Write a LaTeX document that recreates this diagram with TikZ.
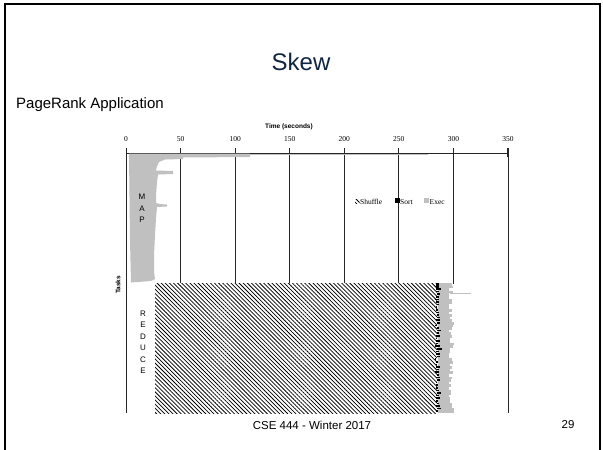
\documentclass[tikz,border=0pt]{standalone}
\usepackage{fontspec}
\setmainfont{Liberation Sans}
\newfontfamily\timesfont{Liberation Serif}
\usetikzlibrary{patterns.meta}
\definecolor{titleblue}{RGB}{16,37,66}
\definecolor{execgray}{RGB}{192,192,192}
\tikzset{
  frameline/.style={line width=2.6pt, black},
  gridline/.style={line width=1pt, black!85},
  ticklabel/.style={font=\timesfont\fontsize{7.5}{8}\selectfont, inner sep=0pt},
  phaselabel/.style={font=\fontsize{8}{11.5}\selectfont, align=center, inner sep=0pt},
  legendtext/.style={font=\timesfont\fontsize{7.5}{8}\selectfont, anchor=west, inner sep=0pt},
  shufflefill/.style={pattern={Lines[angle=-45, distance=2.9pt, line width=0.75pt]}},
}
\begin{document}
\begin{tikzpicture}[x=1pt, y=-1pt]
\useasboundingbox (0,0) rectangle (603,450);
\fill[white] (0,0) rectangle (603,450);

% slide frame (open at the bottom)
\draw[frameline] (5,450) -- (5,4) -- (600,4) -- (600,450);

% title, subtitle, footer
\node[text=titleblue, font=\fontsize{24}{28}\selectfont] (title) at (301,62) {Skew};
\node[anchor=west, font=\fontsize{15}{18}\selectfont, inner sep=0pt] (sub) at (16,105) {PageRank Application};
\node[font=\fontsize{11.5}{14}\selectfont, inner sep=0pt] (foot) at (312,425) {CSE 444 - Winter 2017};
\node[font=\fontsize{11.5}{14}\selectfont, inner sep=0pt] (page) at (568,425) {29};

% time axis
\node[font=\bfseries\fontsize{6.5}{8}\selectfont, inner sep=0pt] (axtitle) at (289,127) {Time (seconds)};
\foreach \t [count=\k from 0] in {0,50,...,350} {
  \pgfmathsetmacro\xx{126+54.57*\k}
  \node[ticklabel] (tl\k) at (\xx,139) {\t};
  \draw[gridline] (\xx,148) -- (\xx,157);
}
\foreach \k in {1,...,6} {
  \pgfmathsetmacro\xx{126+54.57*\k}
  \draw[gridline] (\xx,153) -- (\xx,284);
}
\draw[gridline] (126,153) -- (508,153);
\draw[gridline] (126,148) -- (126,413);
\draw[gridline] (508,148) -- (508,413);

% Tasks label
\node[rotate=90, font=\bfseries\fontsize{6.5}{8}\selectfont, inner sep=0pt] (tasks) at (118,285) {Tasks};

% map phase execution
\fill[execgray] (129,153.5) -- (250,153.5) -- (250,157) -- (183,157.5) -- (183,159)
  -- (165,159.5) -- (159,162) -- (157,166) -- (156,170.5) -- (173,171) -- (173,174)
  -- (158,174.5) -- (157,182) -- (156,195) -- (156,203) -- (160,204) -- (167,204.5)
  -- (167,206.5) -- (157,207) -- (156,218) -- (155,235) -- (154,255) -- (154,272)
  -- (155,279) -- (151,281) -- (131,282.5) -- (130,240) -- cycle;
\draw[execgray, line width=0.8pt] (250,154.5) -- (428,154.5);
\node[phaselabel] (map) at (142,208.5) {M\\A\\P};

% reduce phase: shuffle, sort and exec
\fill[white] (155,283) rectangle (437,413);
\fill[shufflefill] (155,283) rectangle (437,413);
\fill[execgray] (438,283) rectangle (449,413);
\draw[execgray, line width=0.8pt] (450,293.5) -- (471,293.5);
\pgfmathsetseed{44}
\foreach \i in {0,...,49} {
  \pgfmathsetmacro\ya{283+2.6*\i}
  \pgfmathsetmacro\yb{\ya+2.6}
  \pgfmathsetmacro\ge{448+6*rnd}
  \fill[execgray] (440,\ya) rectangle (\ge,\yb);
  \pgfmathsetmacro\bs{435+2.5*rnd}
  \pgfmathsetmacro\be{\bs+1+3.5*rnd}
  \fill[black] (\bs,\ya) rectangle (\be,\ya+1.6);
}
\fill[black] (436,283) rectangle (439,290);
\node[phaselabel] (reduce) at (143,342) {R\\E\\D\\U\\C\\E};

% legend
\fill[shufflefill] (355,199) rectangle (359.5,203.5);
\node[legendtext] (lshuffle) at (360,202) {Shuffle};
\fill[black] (394.5,198) rectangle (399.5,203);
\node[legendtext] (lsort) at (400,202) {Sort};
\fill[execgray] (423.5,198) rectangle (428.5,203);
\node[legendtext] (lexec) at (429.5,202) {Exec};
\end{tikzpicture}
\end{document}
